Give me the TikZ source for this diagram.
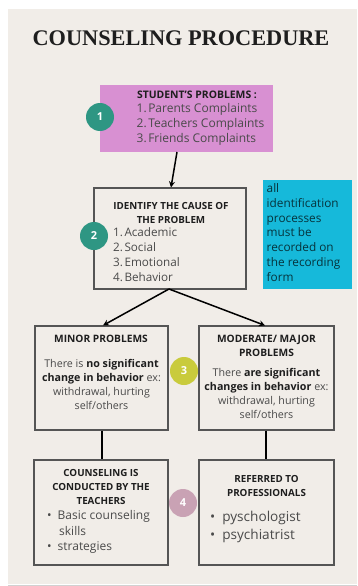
\documentclass[tikz,border=0pt]{standalone}
\usepackage{fontspec}
\setmainfont{Open Sans}
\newfontfamily\titlefont{Liberation Serif}
\usetikzlibrary{arrows.meta}
\definecolor{panel}{HTML}{F1EDE8}
\definecolor{pinkbox}{HTML}{D890D2}
\definecolor{cyanbox}{HTML}{16B9DA}
\definecolor{teal}{HTML}{2E9683}
\definecolor{lime}{HTML}{C9CB3C}
\definecolor{mauve}{HTML}{C9A2B4}
\definecolor{bodytxt}{HTML}{4A4A4A}
\definecolor{headtxt}{HTML}{1E1E1E}
\definecolor{borderc}{HTML}{555555}
\newcommand{\nsep}{\hspace{1.5pt}}
\tikzset{
  box/.style={draw=borderc, line width=1.1pt, fill=panel, minimum width=#1, inner sep=0pt},
  badge/.style={circle, fill=#1, minimum size=28pt, inner sep=0pt, text=white, font=\bfseries\fontsize{11}{12}\selectfont},
  head/.style={inner sep=0pt, align=center, text=headtxt, font=\bfseries\fontsize{9.8}{14}\selectfont},
  bodyc/.style={inner sep=0pt, align=center, text=bodytxt, font=\fontsize{10.7}{14}\selectfont},
  listl/.style={inner sep=0pt, align=left, anchor=west, text=bodytxt},
  conn/.style={line width=1.5pt, black},
  arr/.style={conn, -{Stealth[length=6pt,width=6pt]}}
}
\begin{document}
\begin{tikzpicture}[x=1pt,y=-1pt]
\useasboundingbox (0,0) rectangle (357,586);
\fill[white] (0,0) rectangle (357,586);
\fill[black!18] (8,585) rectangle (357,586);
\fill[panel] (8,9) rectangle (357,584);
\node[inner sep=0pt, text=headtxt, font=\titlefont\bfseries\fontsize{22.3}{24}\selectfont] (title) at (181,38) {COUNSELING PROCEDURE};
% boxes
\node[draw=none, fill=pinkbox, minimum width=173pt, minimum height=67pt, inner sep=0pt] (b1) at (186.5,118.5) {};
\node[box=152pt, minimum height=101pt] (b2) at (170,238.5) {};
\node[fill=cyanbox, minimum width=89pt, minimum height=109pt, inner sep=0pt] (note) at (307.5,234.5) {};
\node[box=133pt, minimum height=104pt] (minor) at (101.5,378) {};
\node[box=135pt, minimum height=104pt] (major) at (266.5,378) {};
\node[box=134pt, minimum height=105pt] (teach) at (101,512.5) {};
\node[box=135pt, minimum height=105pt] (prof) at (266.5,512.5) {};
% connectors
\coordinate (b2s) at (169,289);
\draw[arr] (177,152) -- (b2.north -| 171,0);
\draw[arr] (b2s) -- (minor.north -| 103,0);
\draw[arr] (b2s) -- (major.north -| 265,0);
\draw[conn] (minor.south -| 102,0) -- (teach.north -| 102,0);
\draw[conn] (major.south -| 266,0) -- (prof.north -| 266,0);
% badges
\node[badge=teal] (n1) at (100,117) {1};
\node[badge=teal] (n2) at (94,236) {2};
\node[badge=lime] (n3) at (184,371) {3};
\node[badge=mauve] (n4) at (183,503) {4};
% texts box 1
\node[head, font=\bfseries\fontsize{10.4}{14}\selectfont] (t1h) at (197,95) {STUDENT'S PROBLEMS :};
\node[listl, font=\fontsize{12}{15}\selectfont] (t1l) at (136.5,124) {1.\nsep Parents Complaints\\2.\nsep Teachers Complaints\\3.\nsep Friends Complaints};
% box 2
\node[head] (t2h) at (171,213) {IDENTIFY THE CAUSE OF\\THE PROBLEM};
\node[listl, font=\fontsize{11.7}{15}\selectfont] (t2l) at (113,254.5) {1.\nsep Academic\\2.\nsep Social\\3.\nsep Emotional\\4.\nsep Behavior};
% note
\node[listl, text=black!72!cyanbox, font=\fontsize{11.8}{14.8}\selectfont] (tn) at (266.5,232.5) {all\\identification\\processes\\must be\\recorded on\\the recording\\form};
% minor
\node[head, font=\bfseries\fontsize{10.2}{14}\selectfont] (t3h) at (101,339) {MINOR PROBLEMS};
\node[bodyc] (t3b) at (101.5,384) {There is \textcolor{headtxt}{\bfseries no significant}\\\textcolor{headtxt}{\bfseries change in behavior} ex:\\withdrawal, hurting\\self/others};
% major
\node[head, font=\bfseries\fontsize{10.2}{14}\selectfont] (t4h) at (266.5,346) {MODERATE/ MAJOR\\PROBLEMS};
\node[bodyc] (t4b) at (266.5,393) {There \textcolor{headtxt}{\bfseries are significant}\\\textcolor{headtxt}{\bfseries changes in behavior} ex:\\withdrawal, hurting\\self/others};
% teachers
\node[head] (t5h) at (101,486.5) {COUNSELING IS\\CONDUCTED BY THE\\TEACHERS};
\node[listl, font=\fontsize{12}{15.5}\selectfont] (t5l) at (47,532) {\textbullet\hspace{6pt}Basic counseling\\\hspace{12pt}skills\\\textbullet\hspace{6pt}strategies};
% professionals
\node[head] (t6h) at (266.5,485.5) {REFERRED TO\\PROFESSIONALS};
\node[listl, font=\fontsize{13.6}{18}\selectfont] (t6l) at (210,527) {\textbullet\hspace{7pt}pyschologist\\\textbullet\hspace{7pt}psychiatrist};
\end{tikzpicture}
\end{document}
